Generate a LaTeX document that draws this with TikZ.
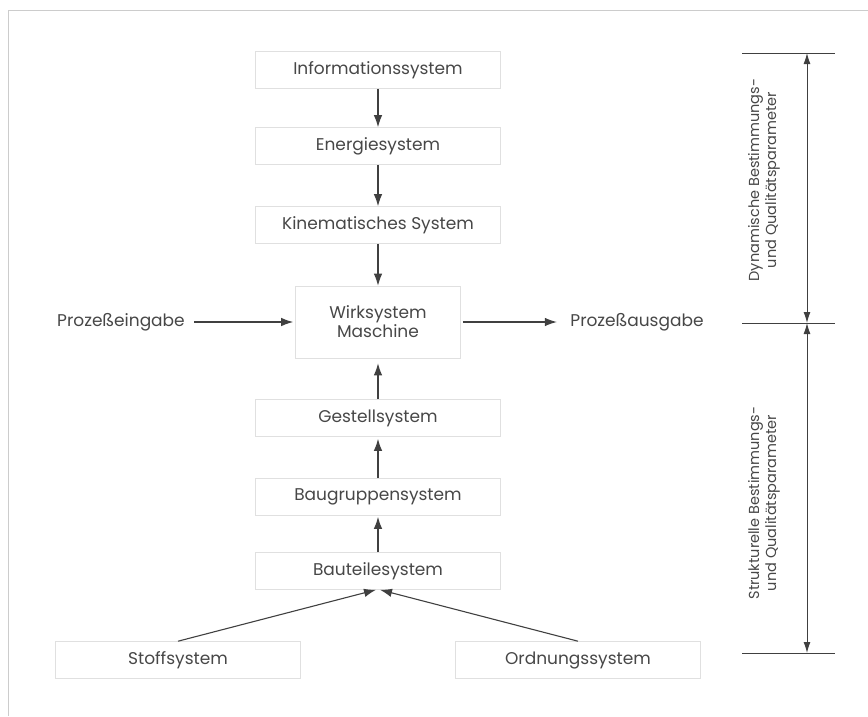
\documentclass[tikz,border=0pt]{standalone}
\usepackage{fontspec}
\setmainfont{Poppins}
\usetikzlibrary{arrows.meta}
\begin{document}
\begin{tikzpicture}[x=1pt,y=-1pt,
  txt/.style={font=\fontsize{17}{19}\selectfont, text=black!72},
  rottxt/.style={font=\fontsize{14.5}{17}\selectfont, text=black!72, rotate=90, align=center},
  sysbox/.style={txt, draw=black!12, line width=0.6pt, minimum width=245pt, minimum height=37pt, inner sep=0pt},
  arr/.style={draw=black!75, line width=1.1pt, -{Latex[length=12pt,width=8.5pt]}},
  dimarr/.style={draw=black!75, line width=1pt, {Latex[length=11pt,width=7pt]}-{Latex[length=11pt,width=7pt]}},
  dimline/.style={draw=black!75, line width=1pt},
  faint/.style={draw=black!20, line width=0.6pt}]
\useasboundingbox (0,0) rectangle (868,716);
\coordinate (fbl) at (8,716);
\coordinate (ftl) at (8,10);
\coordinate (ftr) at (868,10);
\draw[faint] (fbl) -- (ftl) -- (ftr);

\node[sysbox] (info) at (378,70) {Informationssystem};
\node[sysbox] (ener) at (378,146) {Energiesystem};
\node[sysbox] (kin) at (378,225) {Kinematisches System};
\node[sysbox, minimum width=165pt, minimum height=72pt, align=center] (wirk) at (378,322) {Wirksystem\\Maschine};
\node[sysbox] (gest) at (378,418) {Gestellsystem};
\node[sysbox] (baug) at (378,497) {Baugruppensystem};
\node[sysbox] (baut) at (378,571) {Bauteilesystem};
\node[sysbox] (stoff) at (178,660) {Stoffsystem};
\node[sysbox] (ord) at (578,660) {Ordnungssystem};
\node[txt] (ein) at (121,322) {Prozeßeingabe};
\node[txt] (aus) at (637,322) {Prozeßausgabe};

\draw[arr] (info) -- (ener);
\draw[arr] (ener) -- (kin);
\draw[arr] (kin) -- (wirk);
\draw[arr, shorten >=5pt] (gest) -- (wirk);
\draw[arr, shorten >=2pt] (baug) -- (gest);
\draw[arr, shorten >=1pt] (baut) -- (baug);
\draw[arr] (stoff.north) -- ([xshift=-2pt]baut.south);
\draw[arr] (ord.north) -- ([xshift=2pt]baut.south);
\draw[arr, shorten <=6pt, shorten >=2pt] (ein) -- (wirk);
\draw[arr, shorten <=2pt, shorten >=10pt] (wirk) -- (aus);

\coordinate (dA) at (807,53);
\coordinate (dB) at (807,323);
\coordinate (dC) at (807,653);
\foreach \c in {dA,dB,dC}{
  \draw[dimline] ([xshift=-65pt]\c) -- ([xshift=28pt]\c);
}
\draw[dimarr] (dA) -- (dB);
\draw[dimarr] (dB) -- (dC);
\node[rottxt] (dyn) at (764,180) {Dynamische Bestimmungs-\\und Qualitätsparameter};
\node[rottxt] (str) at (764,503) {Strukturelle Bestimmungs-\\und Qualitätsparameter};
\end{tikzpicture}
\end{document}
